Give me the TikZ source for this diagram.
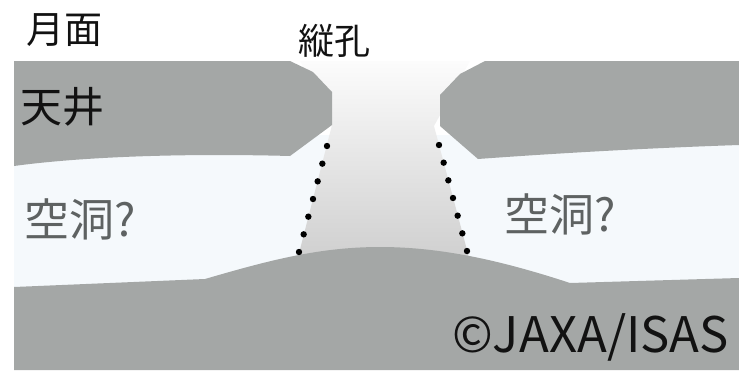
\documentclass[tikz,border=0pt]{standalone}
\usepackage{fontspec}
\newfontfamily\jpfont{Noto Sans CJK JP}
\usetikzlibrary{calc}
\definecolor{rock}{HTML}{A4A7A6}
\definecolor{cave}{HTML}{F5F9FC}
\definecolor{labelgray}{HTML}{5E6262}
\definecolor{shafttop}{HTML}{FCFCFC}
\definecolor{shaftbottom}{HTML}{CECECE}
\tikzset{
  txt/.style={inner sep=0pt, font=\jpfont, text=black!93},
  cavetxt/.style={txt, text=labelgray},
  rockfill/.style={fill=rock},
  holedot/.style={fill=black}
}
\begin{document}
\begin{tikzpicture}[x=1pt,y=-1pt]
\useasboundingbox (0,0) rectangle (739,370);

% open cavity between ceiling and floor
\fill[cave] (14,135) rectangle (739,300);

% light funnel of the vertical hole
\shade[top color=shafttop, bottom color=shaftbottom]
  (300,61) -- (470,61) -- (434,126) -- (471,265) -- (296,265) -- (332,125) -- cycle;

% ceiling slabs
\path[rockfill] (14,61) -- (290,61) -- (313,72) -- (332,92) -- (332,125) -- (290,156)
  .. controls (180,153) and (80,157) .. (14,166) -- cycle;
\path[rockfill] (739,61) -- (485,61) -- (460,74) -- (440,95) -- (440,126) -- (478,159)
  .. controls (560,153) and (650,148) .. (739,145) -- cycle;

% floor
\path[rockfill] (14,287) -- (205,279) .. controls (270,260) and (320,247) .. (380,247)
  .. controls (440,247) and (500,260) .. (570,283) -- (739,278) -- (739,370) -- (14,370) -- cycle;

% dotted walls of the hole
\coordinate (lt) at (327,146);
\coordinate (lb) at (299,252);
\coordinate (rt) at (439,145);
\coordinate (rb) at (467,251);
\foreach \i in {0,...,6}{
  \fill[holedot] ($(lt)!\i/6!(lb)$) circle (3.2);
  \fill[holedot] ($(rt)!\i/6!(rb)$) circle (3.2);
}

% labels
\node[txt, font=\jpfont\fontsize{38}{38}\selectfont] (surface) at (65,30) {月面};
\node[txt, font=\jpfont\fontsize{36}{36}\selectfont] (hole) at (334,41) {縦孔};
\node[txt, font=\jpfont\fontsize{42}{42}\selectfont] (ceiling) at (62,107) {天井};
\node[cavetxt, font=\jpfont\fontsize{45}{45}\selectfont] (caveL) at (80,219) {空洞?};
\node[cavetxt, font=\jpfont\fontsize{45}{45}\selectfont] (caveR) at (560,214) {空洞?};
\node[txt, anchor=base east, font=\jpfont\fontsize{49}{49}\selectfont] (credit) at (729,352) {©JAXA/ISAS};
\end{tikzpicture}
\end{document}
